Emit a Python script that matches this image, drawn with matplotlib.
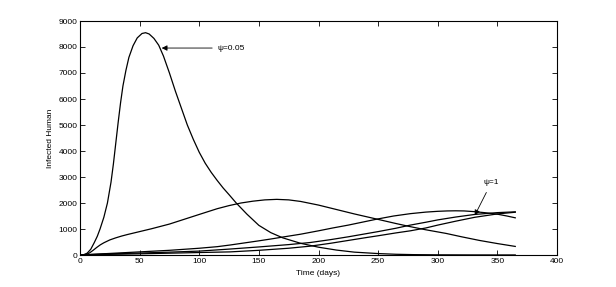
import matplotlib
matplotlib.use("Agg")
import matplotlib.pyplot as plt

# psi = 0.05
t1 = [0, 3, 6, 9, 12, 14.5, 16.8, 20, 23, 26, 28, 30, 32, 34, 36, 38.5, 41, 44.5, 48, 52, 55, 58,
      62, 66, 70, 75, 80, 85, 90, 95, 100, 105, 110, 115, 120, 125, 131, 140, 150, 160, 170, 185,
      200, 215, 230, 250, 265, 280, 300, 330, 365]
v1 = [0, 10, 70, 220, 480, 720, 1000, 1450, 2000, 2800, 3500, 4300, 5100, 5850, 6500, 7100, 7600,
      8050, 8350, 8520, 8550, 8500, 8330, 8070, 7650, 7000, 6300, 5650, 5000, 4450, 3950, 3530, 3180,
      2870, 2580, 2320, 2000, 1570, 1140, 860, 660, 450, 300, 190, 110, 55, 28, 14, 7, 3, 2]

# second curve
t2 = [0, 5, 8, 11, 14, 17, 20, 25, 30, 35, 40, 50, 60, 75, 100, 115, 125, 135, 145, 155, 165, 175,
      185, 200, 215, 230, 249, 265, 277, 290, 307, 320, 335, 350, 365]
v2 = [0, 20, 80, 180, 290, 390, 470, 580, 660, 730, 790, 900, 1010, 1190, 1560, 1780, 1900, 2000,
      2070, 2120, 2140, 2120, 2060, 1920, 1750, 1580, 1380, 1210, 1090, 970, 830, 700, 560, 440, 330]

# third curve
t3 = [0, 5, 10, 25, 50, 75, 100, 115, 126, 138, 150, 160, 170, 185, 200, 212, 225, 237, 249, 263,
      277, 290, 300, 308, 315, 322, 330, 340, 350, 358, 365]
v3 = [0, 8, 25, 60, 120, 180, 260, 320, 385, 465, 545, 615, 690, 800, 930, 1040, 1150, 1265, 1380,
      1500, 1590, 1650, 1680, 1695, 1700, 1695, 1670, 1625, 1570, 1500, 1430]

# fourth curve
t4 = [0, 5, 10, 25, 50, 75, 100, 126, 150, 175, 193, 210, 225, 240, 250, 265, 277, 290, 300, 315,
      331, 350, 365]
v4 = [0, 6, 20, 45, 75, 110, 150, 230, 310, 400, 480, 590, 700, 820, 900, 1030, 1150, 1260, 1350,
      1460, 1560, 1630, 1660]

# psi = 1
t5 = [0, 5, 10, 25, 50, 75, 100, 126, 150, 175, 193, 210, 225, 240, 250, 265, 277, 290, 300, 315,
      331, 350, 365]
v5 = [0, 3, 10, 25, 45, 70, 95, 120, 180, 260, 340, 450, 560, 670, 740, 850, 930, 1040, 1150, 1300,
      1450, 1580, 1645]

xticks = [0, 50, 100, 150, 200, 250, 300, 350, 400]
yticks = [0, 1000, 2000, 3000, 4000, 5000, 6000, 7000, 8000, 9000]

plt.rcParams['font.family'] = ['Liberation Sans', 'DejaVu Sans']

fig = plt.figure(figsize=(6.16, 2.87), dpi=100)
ax = fig.add_axes([80/616, 1-255/287, (557-80)/616, (255-21)/287])

for t, v in [(t1, v1), (t2, v2), (t3, v3), (t4, v4), (t5, v5)]:
    ax.plot(t, v, color='black', lw=0.9, solid_joinstyle='round')

ax.set_xlim(0, 400)
ax.set_ylim(0, 9000)
ax.set_xticks(xticks)
ax.set_yticks(yticks)
ax.tick_params(direction='in', length=3.5, width=0.6, labelsize=6, top=True, right=True, pad=2)
for s in ax.spines.values():
    s.set_linewidth(0.8)

ax.set_xlabel('Time (days)', fontsize=6, labelpad=4)
ax.set_ylabel('Infected Human', fontsize=6, labelpad=3)

ax.annotate('\u03c8=0.05', xy=(68.5, 7960), xytext=(115.5, 7960), fontsize=6,
            va='center', ha='left',
            arrowprops=dict(arrowstyle='-|>', color='black', lw=0.6, mutation_scale=8,
                            shrinkA=2, shrinkB=0))
ax.annotate('\u03c8=1', xy=(331, 1520), xytext=(345, 2790), fontsize=6,
            va='center', ha='center',
            arrowprops=dict(arrowstyle='-|>', color='black', lw=0.6, mutation_scale=8,
                            shrinkA=3, shrinkB=0))

fig.savefig('out.png', dpi=100)
